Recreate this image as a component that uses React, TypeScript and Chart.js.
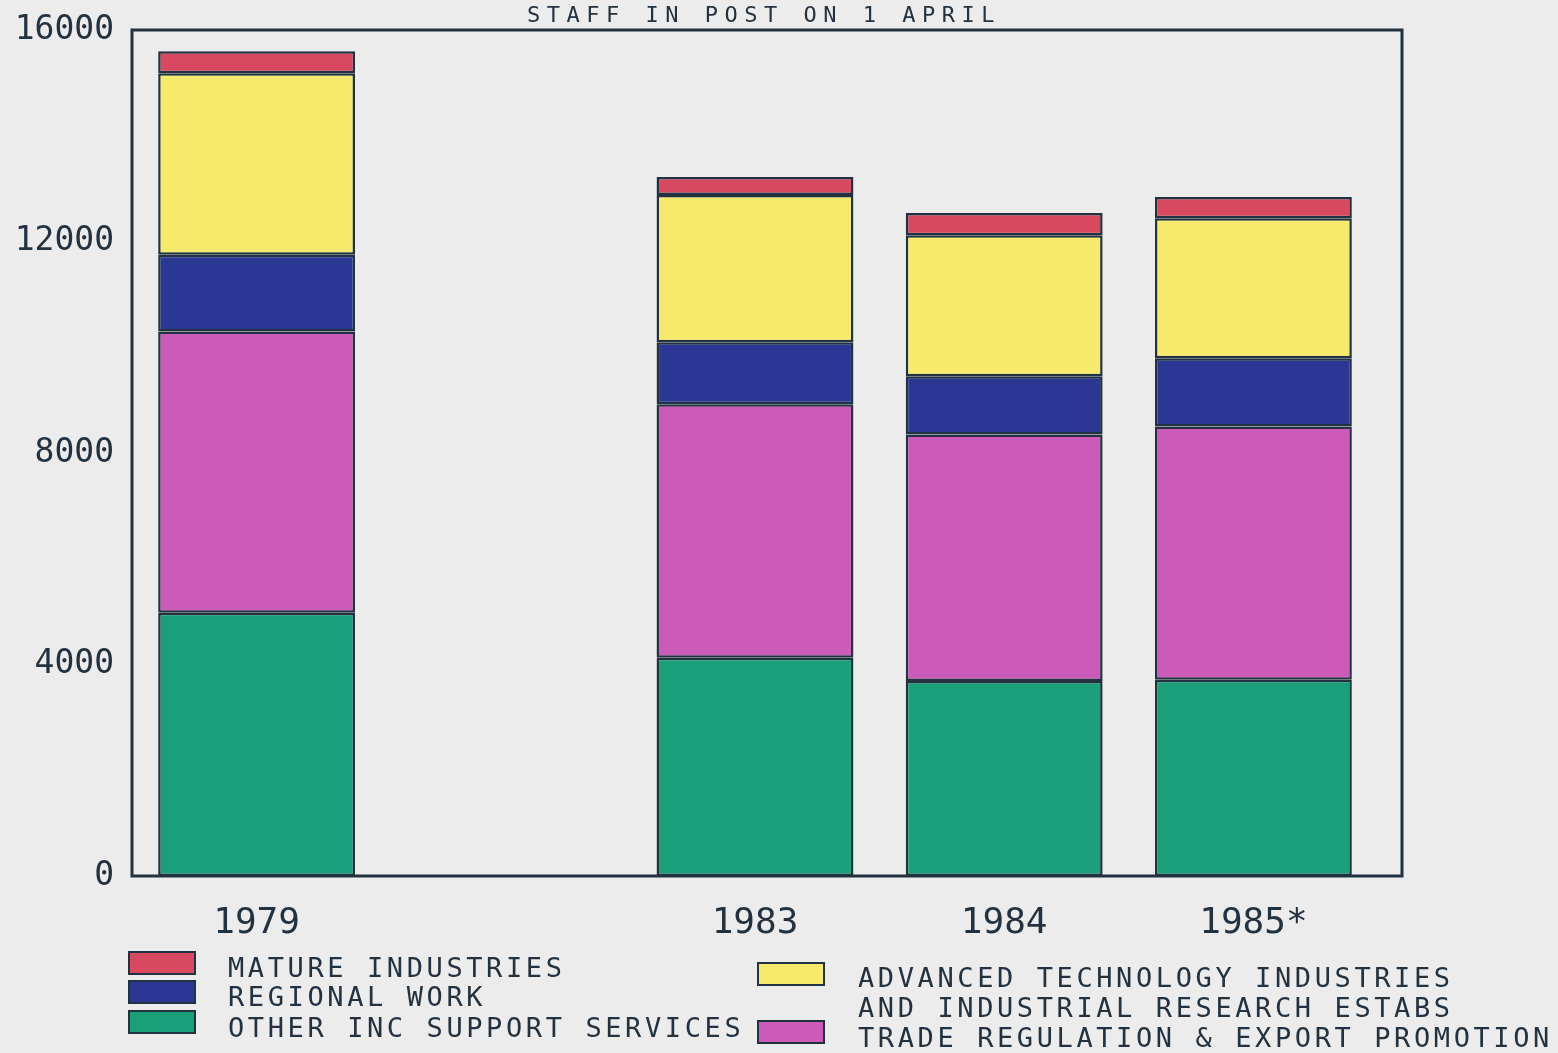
import React, { useEffect, useRef } from 'react';
import { Chart, registerables } from 'chart.js';

Chart.register(...registerables);

const categories = ['1979', '', '1983', '1984', '1985*'];
const otherSupport = [4980, null, 4130, 3690, 3710];
const tradeRegulation = [5320, null, 4790, 4660, 4790];
const regionalWork = [1450, null, 1175, 1100, 1290];
const advancedTech = [3430, null, 2785, 2670, 2650];
const matureIndustries = [420, null, 340, 420, 400];
const yTickValues = [0, 4000, 8000, 12000, 16000];
const chartTitle = 'STAFF IN POST ON 1 APRIL';

const seriesNames = [
  'OTHER INC SUPPORT SERVICES',
  'TRADE REGULATION & EXPORT PROMOTION',
  'REGIONAL WORK',
  'ADVANCED TECHNOLOGY INDUSTRIES AND INDUSTRIAL RESEARCH ESTABS',
  'MATURE INDUSTRIES',
];
const seriesColors = ['#1b9f79', '#cb5ab9', '#2b3893', '#f5ea6c', '#d8485f'];

const INK = '#233240';
const PAPER = '#ececec';
const MONO = "'DejaVu Sans Mono', 'Liberation Mono', monospace";
const BOX_RIGHT_EXTRA = 24;

const boxPlugin = {
  id: 'plotBox',
  afterDatasetsDraw(chart: any) {
    const { ctx, chartArea } = chart;
    ctx.save();
    ctx.strokeStyle = INK;
    ctx.lineWidth = 3;
    ctx.strokeRect(
      chartArea.left,
      chartArea.top,
      chartArea.right + BOX_RIGHT_EXTRA - chartArea.left,
      chartArea.bottom - chartArea.top
    );
    ctx.restore();
  },
};

export default function App() {
  const canvasRef = useRef<HTMLCanvasElement | null>(null);

  useEffect(() => {
    const canvas = canvasRef.current;
    if (!canvas) return;
    const values = [otherSupport, tradeRegulation, regionalWork, advancedTech, matureIndustries];
    const chart = new Chart(canvas, {
      type: 'bar',
      data: {
        labels: categories,
        datasets: values.map((d, i) => ({
          label: seriesNames[i],
          data: d as any,
          backgroundColor: seriesColors[i],
          borderColor: INK,
          borderWidth: 2.5,
          borderSkipped: false,
          categoryPercentage: 1,
          barPercentage: 0.79,
        })),
      },
      options: {
        responsive: false,
        animation: false,
        layout: { padding: { left: 0, top: 30, right: 180, bottom: 97 } },
        plugins: { legend: { display: false }, title: { display: false }, tooltip: { enabled: false } },
        scales: {
          x: {
            stacked: true,
            grid: { display: false, drawTicks: false },
            border: { display: false },
            ticks: {
              color: INK,
              font: { family: MONO, size: 36 },
              padding: 26,
              maxRotation: 0,
              autoSkip: false,
            },
            afterFit: (s: any) => {
              s.height = 80;
            },
          },
          y: {
            stacked: true,
            min: 0,
            max: 16000,
            grid: { display: false, drawTicks: false },
            border: { display: false },
            afterBuildTicks: (s: any) => {
              s.ticks = yTickValues.map((v) => ({ value: v }));
            },
            ticks: {
              color: INK,
              font: { family: MONO, size: 33, lineHeight: 0.5 },
              padding: 18,
              callback: (v: any) => String(v),
            },
            afterFit: (s: any) => {
              s.width = 132;
            },
          },
        },
      },
      plugins: [boxPlugin],
    });
    return () => chart.destroy();
  }, []);

  const legendText: React.CSSProperties = {
    position: 'absolute',
    fontFamily: MONO,
    fontSize: 27,
    letterSpacing: 3.6,
    color: INK,
    lineHeight: '30px',
    whiteSpace: 'nowrap',
  };
  const swatch = (color: string, left: number, top: number): React.CSSProperties => ({
    position: 'absolute',
    left,
    top,
    width: 64,
    height: 20,
    background: color,
    border: `2px solid ${INK}`,
  });

  return (
    <div style={{ position: 'fixed', left: 0, top: 0, width: 1558, height: 1053, background: PAPER, overflow: 'hidden' }}>
      <canvas ref={canvasRef} width={1558} height={1053} style={{ position: 'absolute', left: 0, top: 0, width: 1558, height: 1053 }} />
      <div
        style={{
          position: 'absolute',
          left: 527,
          top: 2,
          fontFamily: MONO,
          fontSize: 22,
          letterSpacing: 6.5,
          color: INK,
          whiteSpace: 'nowrap',
        }}
      >
        {chartTitle}
      </div>
      <div style={swatch(seriesColors[4], 128, 951)} />
      <div style={{ ...legendText, left: 228, top: 953 }}>MATURE INDUSTRIES</div>
      <div style={swatch(seriesColors[2], 128, 980)} />
      <div style={{ ...legendText, left: 228, top: 982 }}>REGIONAL WORK</div>
      <div style={swatch(seriesColors[0], 128, 1010)} />
      <div style={{ ...legendText, left: 228, top: 1013 }}>OTHER INC SUPPORT SERVICES</div>
      <div style={swatch(seriesColors[3], 757, 962)} />
      <div style={{ ...legendText, left: 858, top: 963 }}>ADVANCED TECHNOLOGY INDUSTRIES</div>
      <div style={{ ...legendText, left: 858, top: 993 }}>AND INDUSTRIAL RESEARCH ESTABS</div>
      <div style={swatch(seriesColors[1], 757, 1020)} />
      <div style={{ ...legendText, left: 858, top: 1023 }}>TRADE REGULATION &amp; EXPORT PROMOTION</div>
    </div>
  );
}
